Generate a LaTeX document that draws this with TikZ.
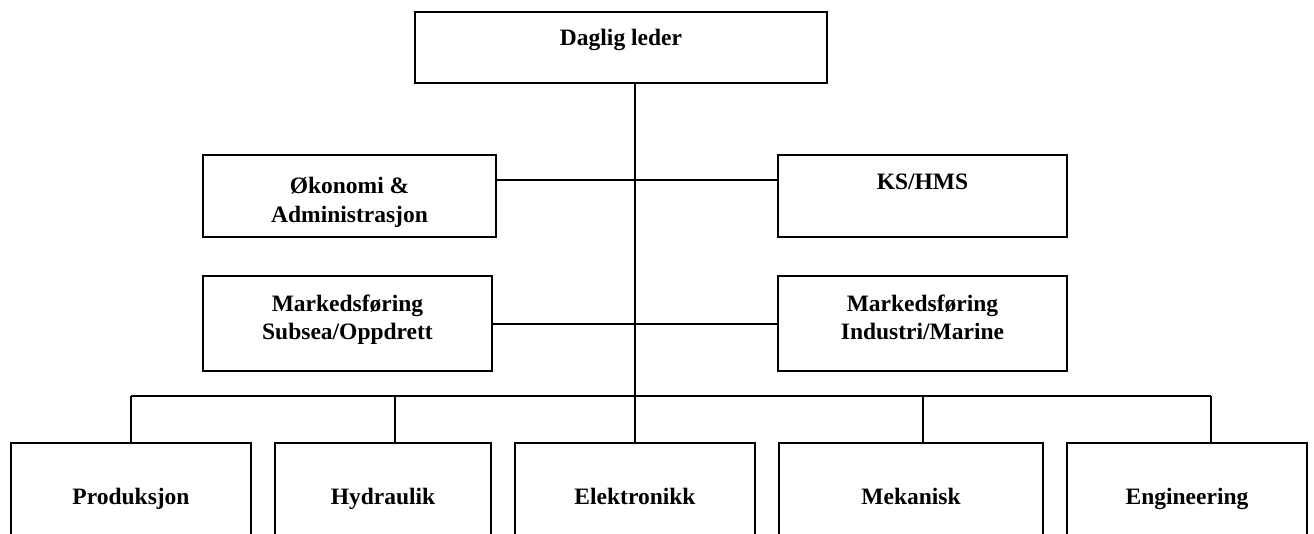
\documentclass[tikz,border=0pt]{standalone}
\usepackage{fontspec}
\setmainfont{Liberation Serif}
\begin{document}
\begin{tikzpicture}[x=1pt,y=-1pt,
  box/.style={draw=black,line width=1.8pt,minimum width=#1,inner sep=0pt,outer sep=0pt,anchor=north west},
  lbl/.style={font=\fontsize{23.5}{28.5}\selectfont\bfseries,anchor=base,inner sep=0pt},
  conn/.style={draw=black,line width=1.8pt}]
\useasboundingbox (0,0) rectangle (1314,533);
\clip (0,0) rectangle (1314,533);
% boxes
\node[box=412pt,minimum height=71pt] (dl) at (415,12) {};
\node[box=293pt,minimum height=82pt] (oa) at (203,155) {};
\node[box=289pt,minimum height=82pt] (ks) at (778,155) {};
\node[box=289pt,minimum height=95pt] (ms) at (203,276) {};
\node[box=289pt,minimum height=95pt] (mi) at (778,276) {};
\node[box=240pt,minimum height=120pt] (p1) at (11,443) {};
\node[box=216pt,minimum height=120pt] (p2) at (275,443) {};
\node[box=240pt,minimum height=120pt] (p3) at (515,443) {};
\node[box=264pt,minimum height=120pt] (p4) at (779,443) {};
\node[box=240pt,minimum height=120pt] (p5) at (1067,443) {};
% labels
\node[lbl] (tdl) at (621,45) {Daglig leder};
\node[lbl] (toa1) at (349.5,193) {Økonomi \&};
\node[lbl] (toa2) at (349.5,222) {Administrasjon};
\node[lbl] (tks) at (922.5,189) {KS/HMS};
\node[lbl] (tms1) at (347.5,311) {Markedsføring};
\node[lbl] (tms2) at (347.5,339) {Subsea/Oppdrett};
\node[lbl] (tmi1) at (922.5,311) {Markedsføring};
\node[lbl] (tmi2) at (922.5,339) {Industri/Marine};
\node[lbl] (tp1) at (131,504) {Produksjon};
\node[lbl] (tp2) at (383,504) {Hydraulik};
\node[lbl] (tp3) at (635,504) {Elektronikk};
\node[lbl] (tp4) at (911,504) {Mekanisk};
\node[lbl] (tp5) at (1187,504) {Engineering};
% connector coordinates
\coordinate (top) at (635,83);
\coordinate (bus) at (635,396);
\coordinate (r1) at (635,180);
\coordinate (r2) at (635,324);
\coordinate (d1) at (131,396);
\coordinate (d2) at (395,396);
\coordinate (d4) at (923,396);
\coordinate (d5) at (1211,396);
% connectors
\draw[conn] (dl.south-|top) -- (bus);
\draw[conn] (oa.east|-r1) -- (ks.west|-r1);
\draw[conn] (ms.east|-r2) -- (mi.west|-r2);
\draw[conn] (d1) -- (d5);
\draw[conn] (d1) -- (p1.north-|d1);
\draw[conn] (d2) -- (p2.north-|d2);
\draw[conn] (bus) -- (p3.north-|bus);
\draw[conn] (d4) -- (p4.north-|d4);
\draw[conn] (d5) -- (p5.north-|d5);
\end{tikzpicture}
\end{document}
